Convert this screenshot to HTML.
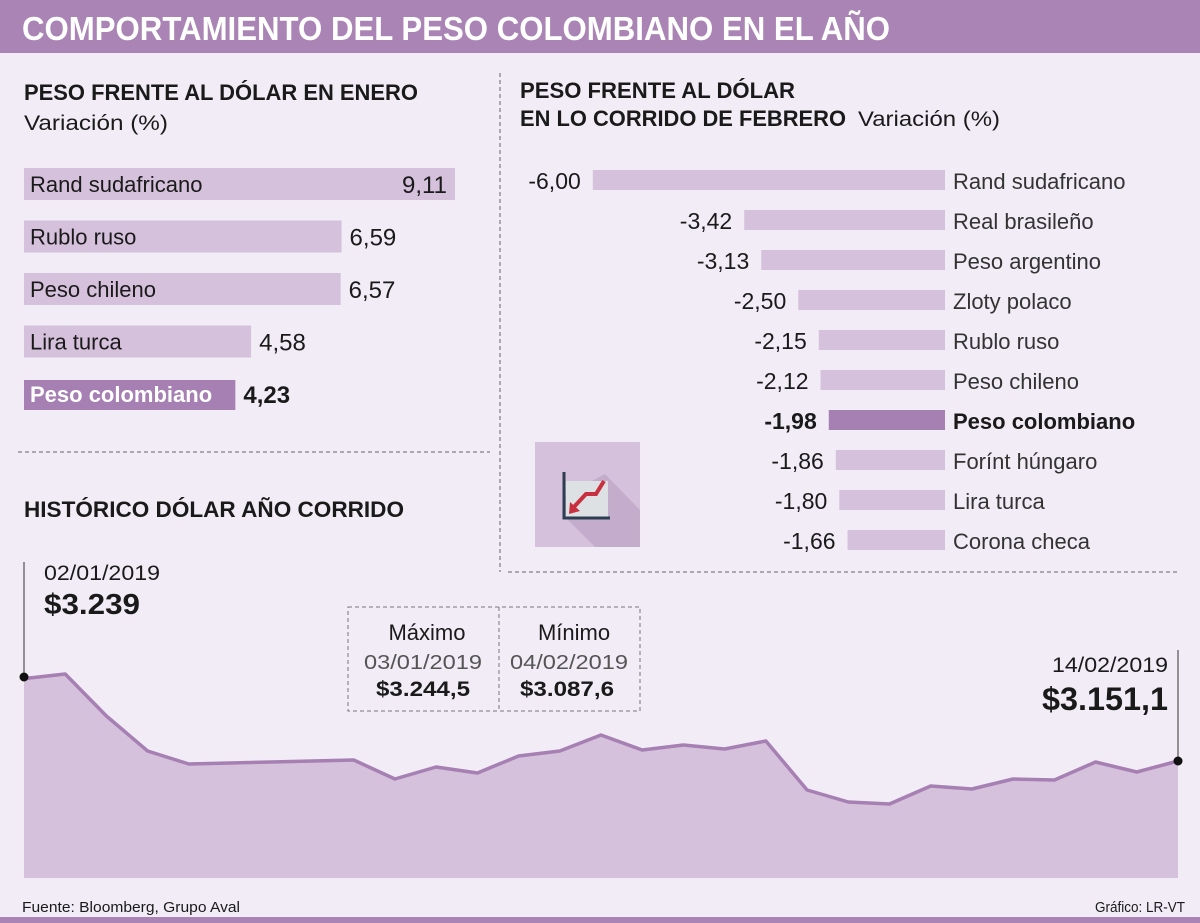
<!DOCTYPE html>
<html><head><meta charset="utf-8"><style>
body{margin:0;width:1200px;height:923px;background:#f1ecf5;overflow:hidden}
svg{display:block}
text{font-family:"Liberation Sans Narrow","Liberation Sans",sans-serif;fill:#1a1a1a}
</style></head><body>
<svg width="1200" height="923" viewBox="0 0 1200 923">
<rect x="0" y="0" width="1200" height="53" fill="#a984b4"/>
<text x="22" y="40" font-size="33" font-weight="bold" style="fill:#fff" textLength="868" lengthAdjust="spacingAndGlyphs">COMPORTAMIENTO DEL PESO COLOMBIANO EN EL AÑO</text>
<rect x="0" y="917" width="1200" height="6" fill="#a984b4"/>

<line x1="500" y1="73" x2="500" y2="572" stroke="#666" stroke-dasharray="4,3"/>
<line x1="18" y1="452" x2="490" y2="452" stroke="#666" stroke-dasharray="4,3"/>
<line x1="508" y1="572" x2="1180" y2="572" stroke="#666" stroke-dasharray="4,3"/>

<text x="24" y="100" font-size="22" font-weight="bold" textLength="394" lengthAdjust="spacingAndGlyphs">PESO FRENTE AL DÓLAR EN ENERO</text>
<text x="24" y="130" font-size="21" textLength="144" lengthAdjust="spacingAndGlyphs">Variación (%)</text>
<g id="left"></g>

<text x="520" y="98" font-size="22" font-weight="bold" textLength="275" lengthAdjust="spacingAndGlyphs">PESO FRENTE AL DÓLAR</text>
<text x="520" y="126" font-size="22" font-weight="bold" textLength="326" lengthAdjust="spacingAndGlyphs">EN LO CORRIDO DE FEBRERO</text>
<text x="858" y="126" font-size="21" textLength="142" lengthAdjust="spacingAndGlyphs">Variación (%)</text>
<g id="right"></g>

<g>
<rect x="535" y="442" width="105" height="105" fill="#d5c1dc"/>
<polygon points="565,495 605,474 640,510 640,547 595,547 565,517" fill="#c4adcc"/>
<rect x="566" y="481" width="42" height="37" fill="#dde1e4"/>
<polyline points="564,472 564,518 610,518" fill="none" stroke="#2d3e50" stroke-width="3"/>
<polyline points="604,481 596,494 586,494 573,508" fill="none" stroke="#c8303f" stroke-width="4"/>
<polygon points="569,514 570,502 580,511" fill="#c8303f"/>
</g>

<text x="24" y="517" font-size="22" font-weight="bold" textLength="380" lengthAdjust="spacingAndGlyphs">HISTÓRICO DÓLAR AÑO CORRIDO</text>
<g id="area"></g>

<line x1="24" y1="562" x2="24" y2="677" stroke="#333" stroke-width="1"/>
<circle cx="24" cy="677" r="4.5" fill="#111"/>
<text x="44" y="580" font-size="21" fill="#444" textLength="116" lengthAdjust="spacingAndGlyphs">02/01/2019</text>
<text x="44" y="614" font-size="29" font-weight="bold" textLength="96" lengthAdjust="spacingAndGlyphs">$3.239</text>

<line x1="1178" y1="650" x2="1178" y2="761" stroke="#333"/>
<circle cx="1178" cy="761" r="4.5" fill="#111"/>
<text x="1168" y="672" font-size="21" text-anchor="end" textLength="116" lengthAdjust="spacingAndGlyphs">14/02/2019</text>
<text x="1168" y="710" font-size="32" font-weight="bold" text-anchor="end" textLength="126" lengthAdjust="spacingAndGlyphs">$3.151,1</text>

<g>
<rect x="348" y="607" width="292" height="104" fill="none" stroke="#777" stroke-dasharray="4,3"/>
<line x1="499" y1="607" x2="499" y2="711" stroke="#777" stroke-dasharray="4,3"/>
<text x="427" y="640" font-size="22" text-anchor="middle">Máximo</text>
<text x="423" y="669" font-size="20" text-anchor="middle" textLength="118" lengthAdjust="spacingAndGlyphs" style="fill:#555">03/01/2019</text>
<text x="423" y="696" font-size="21" font-weight="bold" text-anchor="middle" textLength="94" lengthAdjust="spacingAndGlyphs">$3.244,5</text>
<text x="574" y="640" font-size="22" text-anchor="middle">Mínimo</text>
<text x="569" y="669" font-size="20" text-anchor="middle" textLength="118" lengthAdjust="spacingAndGlyphs" style="fill:#555">04/02/2019</text>
<text x="567" y="696" font-size="21" font-weight="bold" text-anchor="middle" textLength="94" lengthAdjust="spacingAndGlyphs">$3.087,6</text>
</g>

<text x="22" y="912" font-size="15" textLength="218" lengthAdjust="spacingAndGlyphs">Fuente: Bloomberg, Grupo Aval</text>
<text x="1185" y="912" font-size="15" text-anchor="end" textLength="90" lengthAdjust="spacingAndGlyphs">Gráfico: LR-VT</text>
</svg>
<script>
const NS="http://www.w3.org/2000/svg";
const leftCats=["Rand sudafricano","Rublo ruso","Peso chileno","Lira turca","Peso colombiano"];
const leftVals=[9.11,6.59,6.57,4.58,4.23];
const leftLabels=["9,11","6,59","6,57","4,58","4,23"];
const rightCats=["Rand sudafricano","Real brasileño","Peso argentino","Zloty polaco","Rublo ruso","Peso chileno","Peso colombiano","Forínt húngaro","Lira turca","Corona checa"];
const rightVals=[-6.00,-3.42,-3.13,-2.50,-2.15,-2.12,-1.98,-1.86,-1.80,-1.66];
const rightLabels=["-6,00","-3,42","-3,13","-2,50","-2,15","-2,12","-1,98","-1,86","-1,80","-1,66"];
const prices=[3239.0,3244.5,3193.8,3151.6,3135.9,3137.1,3138.3,3139.5,3140.7,3117.8,3132.2,3125.0,3145.5,3151.6,3170.9,3152.8,3158.8,3154.0,3163.6,3104.5,3090.0,3087.6,3109.3,3105.7,3117.8,3116.6,3138.3,3126.2,3139.5];
function el(t,a,p){const e=document.createElementNS(NS,t);for(const k in a)e.setAttribute(k,a[k]);p.appendChild(e);return e;}
// left chart
const L=document.getElementById('left');
const lx=v=>45+v*45;
leftCats.forEach((c,i)=>{
 const y=168+i*52.5, hi=i===leftCats.length-1;
 const w=lx(leftVals[i])-24;
 const r=el('rect',{x:24,y:hi?y+2:y,width:w,height:hi?30:32,fill:hi?'#a67fb3':'#d5c1dc'},L);
 
 
 const t=el('text',{x:30,y:y+24,'font-size':22},L);t.textContent=c;
 if(hi){t.setAttribute('font-weight','bold');t.setAttribute('style','fill:#fff');}
 
 
 const inside=i===0;
 const v=el('text',{x:inside?lx(leftVals[i])-8:lx(leftVals[i])+8,y:y+25,'font-size':24,'text-anchor':inside?'end':'start'},L);
 if(hi)v.setAttribute('font-weight','bold');
 v.textContent=leftLabels[i];
 
 
});
// right chart
const R=document.getElementById('right');
const rx=v=>945+v*58.7;
rightCats.forEach((c,i)=>{
 const cy=180+i*40, hi=c==="Peso colombiano";
 const r=el('rect',{x:rx(rightVals[i]),y:cy-10,width:945-rx(rightVals[i]),height:20,fill:hi?'#a67fb3':'#d5c1dc'},R);
 
 
 const v=el('text',{x:rx(rightVals[i])-12,y:cy+9,'font-size':23,'text-anchor':'end'},R);
 v.textContent=rightLabels[i];if(hi)v.setAttribute('font-weight','bold');
 
 
 const t=el('text',{x:953,y:cy+9,'font-size':22},R);t.textContent=c;
 if(hi)t.setAttribute('font-weight','bold');else t.setAttribute('style','fill:#333');
 
 
});
// area chart
const A=document.getElementById('area');
const x0=24,x1=1178,base=878;
const xs=i=>x0+i*(x1-x0)/(prices.length-1);
const ys=v=>674+(3244.5-v)/1.207;
let pts=prices.map((v,i)=>xs(i).toFixed(1)+','+ys(v).toFixed(1));
const area=el('polygon',{points:x0+','+base+' '+pts.join(' ')+' '+x1+','+base,fill:'#d5c1dc'},A);


const line=el('polyline',{points:pts.join(' '),fill:'none',stroke:'#a67fb3','stroke-width':3.5,'stroke-linejoin':'round'},A);


</script>
</body></html>
